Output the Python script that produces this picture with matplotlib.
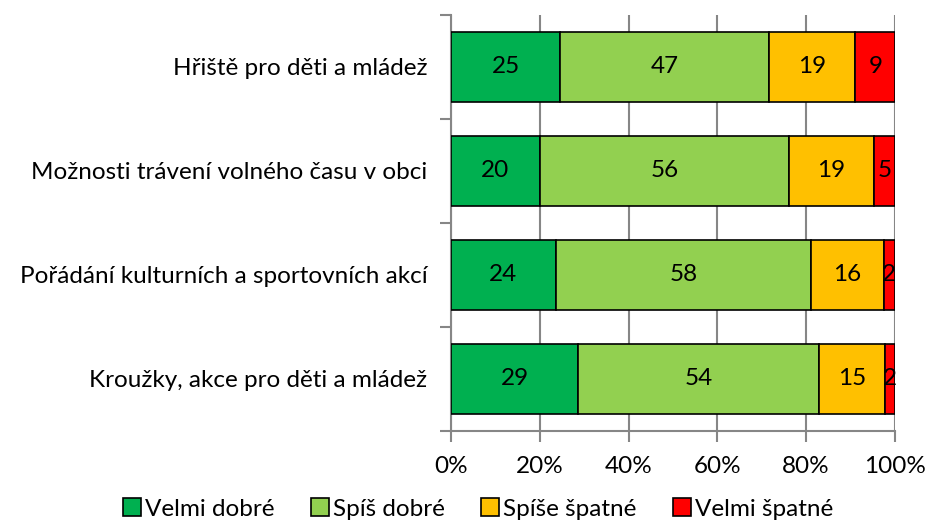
import matplotlib.pyplot as plt
import numpy as np

categories = ["Hřiště pro děti a mládež",
              "Možnosti trávení volného času v obci",
              "Pořádání kulturních a sportovních akcí",
              "Kroužky, akce pro děti a mládež"]
series = ["Velmi dobré", "Spíš dobré", "Spíše špatné", "Velmi špatné"]
velmi_dobre = [24.6, 20.0, 23.6, 28.6]
spis_dobre = [47.1, 56.1, 57.5, 54.3]
spise_spatne = [19.4, 19.2, 16.4, 14.8]
velmi_spatne = [9.0, 4.7, 2.5, 2.3]
colors = ["#00B050", "#92D050", "#FFC000", "#FF0000"]

plt.rcParams['font.family'] = ['Lato', 'DejaVu Sans']
fs = 17.5

fig = plt.figure(figsize=(9.28, 5.3), dpi=100)
ax = fig.add_axes([0.486, 0.187, 0.4784, 0.785])

y = np.arange(len(categories))
left = np.zeros(len(categories))
for name, vals, c in zip(series, [velmi_dobre, spis_dobre, spise_spatne, velmi_spatne], colors):
    vals = np.array(vals)
    bars = ax.barh(y, vals, left=left, height=0.67, color=c, edgecolor='black',
                   linewidth=1.2, label=name, zorder=3)
    for b, v in zip(bars, vals):
        ax.text(b.get_x() + b.get_width() / 2, b.get_y() + b.get_height() / 2,
                f"{v:.0f}", ha='center', va='center', fontsize=fs, zorder=4)
    left += vals

ax.set_xlim(0, 100)
ax.set_ylim(len(categories) - 0.5, -0.5)
ax.set_xticks(np.arange(0, 101, 20))
ax.set_xticklabels([f"{t}%" for t in range(0, 101, 20)], fontsize=fs)
ax.set_yticks(y)
ax.set_yticklabels(categories, fontsize=fs)
ax.tick_params(axis='y', length=0, pad=17)
ax.set_yticks(np.arange(-0.5, len(categories)), minor=True)
ax.tick_params(axis='y', which='minor', length=8, color='#868686', width=1.5)
ax.tick_params(axis='x', length=8, color='#868686', width=1.5, pad=10)
ax.grid(axis='x', color='#868686', linewidth=1.5, zorder=0)
for s in ['top', 'right']:
    ax.spines[s].set_visible(False)
for s in ['left', 'bottom']:
    ax.spines[s].set_color('#868686')
    ax.spines[s].set_linewidth(1.5)

fig.legend(loc='lower center', bbox_to_anchor=(0.515, -0.022), ncol=4, frameon=False,
           fontsize=fs, handlelength=0.75, handleheight=0.75, handletextpad=0.15,
           columnspacing=1.5)

fig.savefig("out.png", dpi=100)
